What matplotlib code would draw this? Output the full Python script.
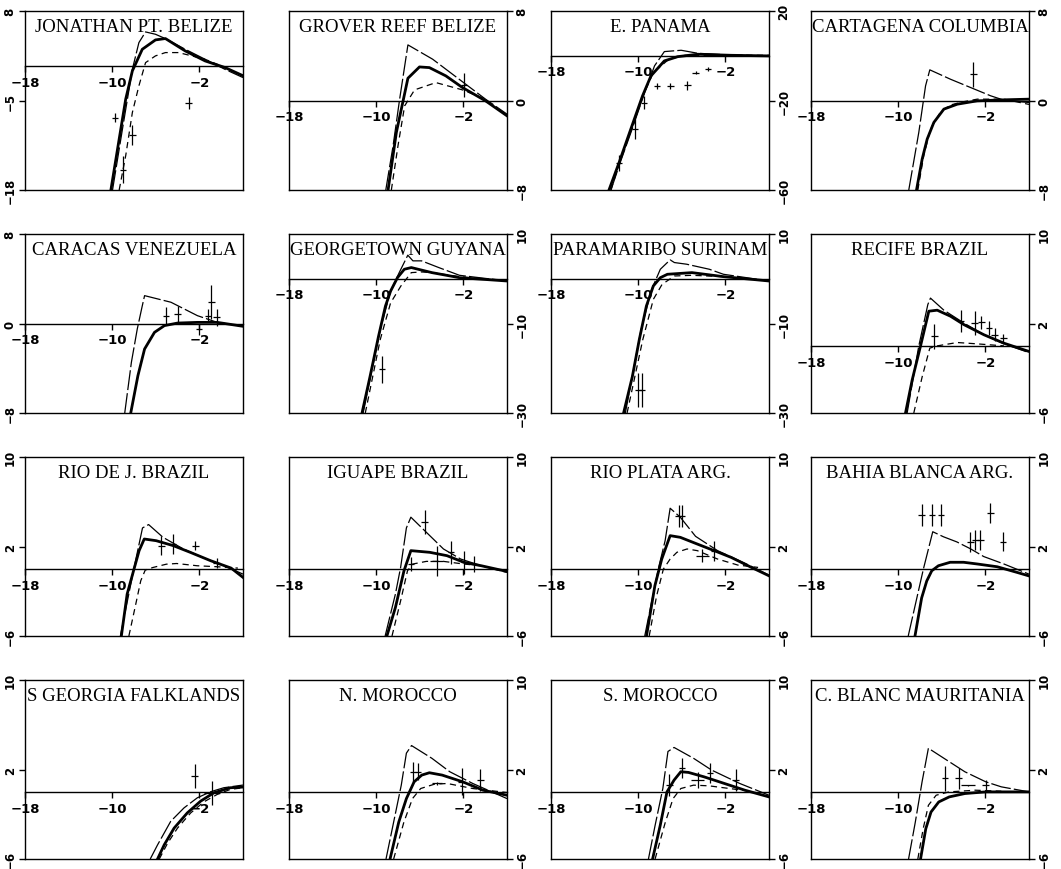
import numpy as np
import matplotlib.pyplot as plt

titles = ["JONATHAN PT. BELIZE", "GROVER REEF BELIZE", "E. PANAMA", "CARTAGENA COLUMBIA",
          "CARACAS VENEZUELA", "GEORGETOWN GUYANA", "PARAMARIBO SURINAM", "RECIFE BRAZIL",
          "RIO DE J. BRAZIL", "IGUAPE BRAZIL", "RIO PLATA ARG.", "BAHIA BLANCA ARG.",
          "S GEORGIA FALKLANDS", "N. MOROCCO", "S. MOROCCO", "C. BLANC MAURITANIA"]

y_limits = [(-18, 8), (-8, 8), (-60, 20), (-8, 8),
            (-8, 8), (-30, 10), (-30, 10), (-6, 10),
            (-6, 10), (-6, 10), (-6, 10), (-6, 10),
            (-6, 10), (-6, 10), (-6, 10), (-6, 10)]

x_ticks = [-18, -10, -2]

# thin long-dash curve, one list per panel
thin_x = [
    [-9.97, -9.06, -8.15, -7.55, -6.94, -6.03, -5.12, -3.30, -1.48, 0.33, 2.0],
    [-9.12, -8.45, -7.85, -7.09, -4.82, -2.39, 0.03, 2.0],
    [-12.5, -11.6, -10.5, -9.45, -8.5, -7.6, -6.06, -4.52, -1.45, 2.0],
    [-9.03, -8.11, -7.49, -7.1, -5.2, -3.36, -1.52, -0.3, 2.0],
    [-8.85, -8.24, -7.7, -7.27, -7.03, -4.61, -2.18, -0.36, 2.0],
    [-11.2, -9.63, -8.68, -7.89, -7.1, -6.63, -5.84, -4.26, -2.36, 2.0],
    [-11.18, -9.74, -8.77, -7.97, -7.07, -6.68, -5.56, -3.47, -2.18, 2.0],
    [-9.18, -8.11, -7.28, -7.04, -5.81, -3.97, -2.13, -0.3, 2.0],
    [-9.25, -8.0, -7.22, -6.66, -5.34, -3.47, -1.59, 0.28, 2.0],
    [-9.18, -8.24, -7.76, -7.23, -6.82, -5.4, -3.83, -2.25, -0.36, 2.0],
    [-9.4, -8.16, -7.53, -7.07, -6.14, -4.74, -2.72, -0.24, 2.0],
    [-9.08, -7.69, -6.83, -5.85, -4.62, -3.38, -2.15, -0.31, 2.0],
    [-6.51, -5.84, -4.63, -3.41, -2.19, -0.98, 0.24, 2.0],
    [-9.1, -8.4, -7.7, -7.23, -6.76, -4.89, -3.25, -1.14, 2.0],
    [-9.06, -8.45, -7.74, -7.27, -6.71, -4.92, -3.27, -0.68, 2.0],
    [-9.05, -8.43, -7.81, -7.23, -5.8, -3.89, -1.97, -0.54, 2.0],
]
thin_y = [
    [-18, -9.16, -0.46, 3.41, 4.96, 4.62, 3.99, 2.44, 0.99, -0.46, -1.67],
    [-8, -4.04, 0.12, 4.97, 3.69, 1.9, 0.12, -1.22],
    [-60, -47, -32, -17, -4.5, 1.86, 2.45, 1.1, 0.3, -0.07],
    [-8, -2.85, 1.31, 2.74, 1.9, 1.16, 0.42, 0.03, -0.18],
    [-8, -3.47, -0.49, 1.45, 2.49, 1.9, 0.7, 0.1, -0.25],
    [-30, -11.4, -2.76, 1.37, 5.27, 4.0, 4.0, 2.5, 0.77, -0.5],
    [-30, -11.4, -2.4, 2.12, 4.22, 3.62, 3.25, 2.12, 1.0, -0.5],
    [-6, 0.0, 3.7, 4.27, 3.19, 2.04, 0.99, 0.18, -0.6],
    [-6, 0.07, 3.66, 3.96, 2.82, 1.78, 0.97, 0.28, -0.47],
    [-6, -2.26, 0.13, 3.66, 4.62, 3.27, 1.78, 0.88, 0.28, -0.32],
    [-6, -0.02, 2.52, 5.42, 4.62, 2.91, 1.63, 0.52, -0.56],
    [-6, -0.02, 3.32, 2.87, 2.41, 1.8, 1.1, 0.44, -0.47],
    [-6, -4.74, -2.63, -1.43, -0.53, 0.01, 0.37, 0.61],
    [-6, -2.7, 0.6, 3.46, 4.14, 3.0, 1.8, 0.75, -0.6],
    [-6, -3.0, 0.3, 3.61, 3.97, 3.0, 1.95, 0.75, -0.3],
    [-6, -2.7, 0.9, 3.9, 3.0, 1.8, 0.9, 0.45, 0.0],
]

# thick solid curve
thick_x = [
    [-10.12, -9.36, -8.76, -8.15, -7.24, -6.03, -5.12, -3.3, -1.48, 0.33, 2.0],
    [-8.91, -8.15, -7.09, -6.03, -5.12, -3.61, -2.09, 0.03, 2.0],
    [-12.68, -11.75, -10.68, -9.6, -8.83, -7.6, -6.37, -4.52, -1.45, 2.0],
    [-8.32, -7.8, -7.34, -6.73, -5.81, -4.58, -2.75, -0.3, 2.0],
    [-8.3, -7.64, -7.03, -6.12, -5.21, -4.0, -2.18, -0.36, 2.0],
    [-11.3, -10.57, -9.79, -9.15, -8.68, -8.05, -7.42, -6.78, -4.89, -2.36, 2.0],
    [-11.34, -10.54, -9.9, -9.25, -8.61, -7.97, -7.32, -5.07, -2.18, 2.0],
    [-9.33, -8.72, -7.95, -7.19, -6.42, -5.2, -3.97, -2.13, -0.3, 2.0],
    [-9.16, -8.63, -8.0, -7.53, -7.06, -5.97, -4.41, -2.84, -0.97, 0.91, 2.0],
    [-9.02, -8.24, -7.45, -6.82, -5.09, -3.51, -1.94, -0.36, 2.0],
    [-9.24, -8.47, -7.84, -7.07, -6.14, -4.58, -3.03, -1.48, 0.39, 2.0],
    [-8.46, -7.85, -7.38, -6.92, -6.31, -5.23, -4.0, -2.77, -0.92, 0.92, 2.0],
    [-5.84, -5.23, -4.32, -3.11, -1.89, -0.67, 0.84, 2.0],
    [-8.73, -7.93, -7.23, -6.52, -5.82, -5.12, -3.95, -2.07, -0.2, 2.0],
    [-8.68, -7.98, -7.36, -6.71, -6.09, -5.39, -3.98, -2.09, -0.21, 2.0],
    [-7.95, -7.47, -6.99, -6.28, -5.32, -3.89, -1.97, 2.0],
]
thick_y = [
    [-18, -10.6, -4.8, -0.7, 2.44, 3.8, 4.0, 2.2, 0.75, -0.2, -1.4],
    [-8, -2.85, 1.99, 3.0, 2.94, 2.2, 1.16, -0.03, -1.37],
    [-60, -47.7, -32.8, -17.9, -9.0, -2.3, -0.4, 0.67, 0.2, -0.07],
    [-8, -5.23, -3.45, -1.96, -0.77, -0.33, -0.03, 0.06, 0.12],
    [-8, -4.66, -2.28, -0.79, -0.19, 0.04, 0.1, 0.1, -0.25],
    [-30, -21.9, -12.9, -6.1, -2.76, 0.24, 2.12, 2.5, 1.37, 0.24, -0.5],
    [-30, -21.9, -13.6, -6.1, -1.6, 0.24, 1.0, 1.37, 0.47, -0.5],
    [-6, -3.06, 0.0, 3.1, 3.19, 2.65, 1.9, 0.99, 0.24, -0.5],
    [-6, -2.26, -0.02, 1.63, 2.67, 2.52, 2.08, 1.48, 0.73, 0.07, -0.76],
    [-6, -3.46, -0.17, 1.63, 1.48, 1.18, 0.58, 0.28, -0.23],
    [-6, -1.51, 0.88, 2.97, 2.82, 2.22, 1.63, 1.03, 0.13, -0.62],
    [-6, -2.6, -1.08, -0.17, 0.28, 0.59, 0.59, 0.44, 0.19, -0.32, -0.63],
    [-6, -4.74, -3.24, -1.88, -0.83, -0.08, 0.37, 0.43],
    [-6, -2.7, -0.6, 0.9, 1.5, 1.71, 1.5, 0.9, 0.15, -0.3],
    [-6, -3.0, 0.0, 1.05, 1.8, 1.74, 1.35, 0.75, 0.15, -0.45],
    [-6, -3.3, -1.8, -0.9, -0.45, -0.15, 0.0, 0.0],
]

# dashed curve (empty where none is drawn)
dash_x = [
    [-9.36, -8.76, -8.15, -7.55, -6.94, -6.03, -5.12, -3.91, -2.7, -1.48, 0.33],
    [-8.61, -8.0, -7.39, -6.48, -4.52, -2.09, 0.03],
    [-12.5, -11.6, -10.5, -9.4, -8.6, -7.2, -5.7, 2.0],
    [-8.2, -7.65, -7.03, -6.1, -5.2, -3.97, -2.75, -0.3, 2.0],
    [],
    [-11.0, -9.63, -8.68, -7.73, -6.78, -5.84, -4.89, -2.36, 2.0],
    [-11.02, -9.58, -8.61, -7.81, -6.68, -5.07, -2.18],
    [-8.57, -7.8, -7.1, -6.42, -4.58, -2.75, -0.3],
    [-8.47, -7.84, -7.38, -6.97, -6.28, -5.03, -4.09, -2.22, -0.34, 1.53],
    [-8.55, -7.76, -7.13, -6.66, -5.4, -3.83, -1.94, -0.36],
    [-8.99, -8.31, -7.69, -7.07, -6.45, -5.52, -4.58, -2.72, -0.86, 1.0],
    [],
    [-5.68, -4.92, -4.01, -2.8, -1.58, -0.37, 0.84, 2.0],
    [-8.4, -7.46, -6.67, -5.92, -4.65, -3.48, -1.14, 2.0],
    [-8.45, -7.51, -6.8, -6.09, -4.92, -3.51, -1.62, 0.26],
    [-8.2, -7.71, -7.23, -6.52, -5.32, -2.93, -0.54],
]
dash_y = [
    [-18, -13.0, -6.74, -2.87, 0.5, 1.48, 1.96, 1.96, 1.48, 0.99, -0.2],
    [-8, -4.04, -0.48, 0.95, 1.6, 0.95, 0.12],
    [-60, -46, -31, -16, -7.5, -1.6, 0.2, 0.2],
    [-8, -4.9, -2.52, -1.0, -0.4, -0.1, 0.12, 0.12, -0.35],
    [],
    [-30, -13.6, -5.4, -1.6, 1.37, 1.52, 1.37, 0.47, -0.5],
    [-30, -13.6, -4.6, -1.26, 0.62, 0.77, 0.47],
    [-6, -2.76, -0.2, 0.0, 0.3, 0.18, 0.0],
    [-6, -3.16, -1.06, -0.11, 0.12, 0.42, 0.48, 0.28, 0.19, 0.07],
    [-6, -2.86, -0.17, 0.43, 0.67, 0.67, 0.43, 0.28],
    [-6, -2.41, -0.02, 0.88, 1.48, 1.78, 1.63, 0.88, 0.34, 0.13],
    [],
    [-6, -4.59, -3.24, -1.88, -0.89, -0.23, 0.22, 0.37],
    [-6, -2.7, -0.6, 0.3, 0.69, 0.75, 0.3, -0.06],
    [-6, -2.7, -0.6, 0.3, 0.6, 0.54, 0.3, 0.06],
    [-6, -3.3, -1.2, -0.3, 0.0, 0.15, 0.06],
]

# observations with error bars
pt_x = [
    [-9.73, -8.15, -9.0, -3.0],
    [-1.94],
    [-11.75, -10.3, -9.45, -8.28, -7.05, -5.5, -4.74, -3.6],
    [-3.11],
    [-5.06, -4.0, -2.03, -1.2, -0.9, -0.42],
    [-9.47],
    [-9.99, -9.67],
    [-6.67, -4.22, -3.0, -2.38, -1.68, -1.16, -0.36],
    [-5.5, -4.41, -2.38, -0.41],
    [-5.56, -6.82, -4.46, -3.13, -1.94, -0.99],
    [-6.3, -6.0, -3.03, -4.12],
    [-7.85, -6.92, -6.09, -1.54, -3.38, -2.92, -2.46, -0.4],
    [-2.44, -0.83],
    [-6.62, -6.15, -4.42, -2.17, -0.44],
    [-7.13, -6.0, -4.54, -3.41, -1.06],
    [-5.7, -4.46, -1.97, -3.6],
]
pt_y = [
    [-7.47, -10.0, -15.05, -5.4],
    [1.37],
    [-48, -32.8, -20.9, -13.5, -13.5, -13.2, -7.5, -6.0],
    [2.35],
    [0.7, 0.85, -0.5, 0.7, 1.9, 0.55],
    [-20.2],
    [-24.9, -24.9],
    [0.85, 2.2, 2.05, 2.1, 1.6, 1.0, 0.7],
    [2.08, 2.2, 2.08, 0.5],
    [4.17, 0.43, 0.73, 1.48, 0.58, 0.43],
    [4.71, 4.71, 1.63, 1.18],
    [4.84, 4.84, 4.84, 5.0, 2.41, 2.56, 2.56, 2.41],
    [1.43, -0.08],
    [1.8, 1.8, 0.75, 0.9, 1.05],
    [0.6, 2.16, 1.05, 1.65, 1.05],
    [1.2, 1.2, 0.6, 0.6],
]
pt_err = [
    [0.7, 1.5, 2.0, 0.9],
    [1.1],
    [3.7, 4.5, 3.0, 1.2, 1.2, 2.0, 0.8, 0.8],
    [1.1],
    [0.8, 0.75, 0.5, 0.6, 1.5, 0.75],
    [3.0],
    [3.8, 3.8],
    [1.1, 1.0, 1.1, 0.6, 0.6, 0.6, 0.4],
    [0.85, 0.9, 0.4, 0.45],
    [1.05, 0.65, 1.35, 1.0, 1.0, 0.75],
    [1.0, 1.0, 0.9, 0.6],
    [1.0, 1.0, 1.0, 0.9, 0.9, 0.9, 0.9, 0.85],
    [1.05, 1.05],
    [0.9, 0.75, 0.1, 1.2, 1.0],
    [1.0, 0.9, 0.7, 0.9, 1.0],
    [1.1, 0.9, 0.45, 0.05],
]
pt_xerr = [
    [0.3] * 4, [0.3], [0.3] * 8, [0.3], [0.3] * 6, [0.3], [0.3, 0.3],
    [0.3] * 7, [0.3] * 4, [0.3, 0.3, 0.6, 0.3, 0.3, 0.3], [0.3, 0.3, 0.3, 0.6],
    [0.3] * 8, [0.3, 0.75], [0.3, 0.3, 0.5, 0.3, 0.3], [0.3, 0.3, 0.6, 0.3, 0.3],
    [0.3, 0.3, 0.3, 0.6],
]

FW, FH = 1061, 870
col_left = [25, 289, 551, 811]
row_top = [12, 235, 458, 681]
W, H = 218, 179

fig = plt.figure(figsize=(FW / 100, FH / 100), dpi=100, facecolor="white")


def fmt(v):
    return f"{v:g}".replace("-", "\u2212")


for i, title in enumerate(titles):
    r, c = divmod(i, 4)
    ax = fig.add_axes([col_left[c] / FW, 1 - (row_top[r] + H) / FH, W / FW, H / FH])
    ymin, ymax = y_limits[i]
    ax.set_xlim(-18, 2)
    ax.set_ylim(ymin, ymax)

    for s in ax.spines.values():
        s.set_linewidth(1.0)
    # bottom spine becomes the zero line; close the box separately
    ax.spines["bottom"].set_position(("data", 0))
    ax.axhline(ymin, color="k", lw=1.0, clip_on=False)

    ax.set_xticks(x_ticks)
    ax.set_xticklabels([fmt(v) for v in x_ticks], fontweight="bold")
    ax.tick_params(axis="x", direction="out", length=4, width=1, pad=3, labelsize=9.5)

    yt = np.linspace(ymin, ymax, 3)
    ax.set_yticks(yt)
    if c > 0:
        ax.yaxis.tick_right()
    ax.set_yticklabels([fmt(v) for v in yt], rotation=90, va="center", fontweight="bold")
    ax.tick_params(axis="y", direction="out", length=4, width=1, pad=2, labelsize=8.5)

    ax.plot(thin_x[i], thin_y[i], color="k", lw=0.9, ls=(0, (16, 2.5)))
    ax.plot(thick_x[i], thick_y[i], color="k", lw=2.0, solid_joinstyle="round")
    if dash_x[i]:
        ax.plot(dash_x[i], dash_y[i], color="k", lw=0.9, ls=(0, (5, 3.5)))
    ax.errorbar(pt_x[i], pt_y[i], yerr=pt_err[i], xerr=pt_xerr[i], fmt="none",
                ecolor="k", elinewidth=0.9, capsize=0)

    ax.text(0.5, 0.89, title, transform=ax.transAxes, ha="center", va="baseline",
            fontsize=13.5, family="Liberation Serif")

fig.savefig("out.png", dpi=100, facecolor="white")
